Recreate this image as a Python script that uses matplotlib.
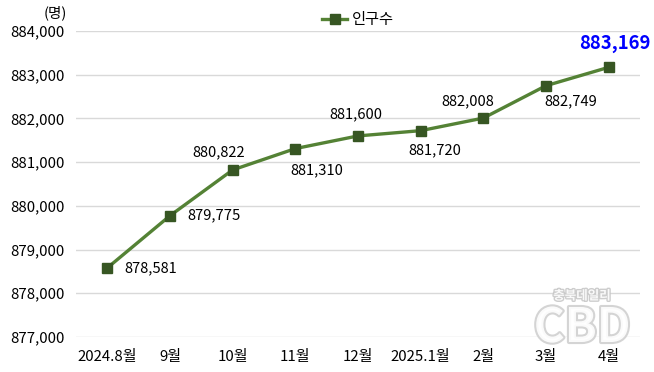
import matplotlib
matplotlib.use("Agg")
import matplotlib.pyplot as plt
import matplotlib.patheffects as pe

plt.rcParams['font.family'] = ['Noto Sans CJK KR', 'DejaVu Sans']

months = ["2024.8월", "9월", "10월", "11월", "12월", "2025.1월", "2월", "3월", "4월"]
population = [878581, 879775, 880822, 881310, 881600, 881720, 882008, 882749, 883169]
yticks = [877000, 878000, 879000, 880000, 881000, 882000, 883000, 884000]

# label offsets in pixels (dx, dy) relative to each point
offsets = [(17, 0), (17, 0), (-14, 18), (21, -22), (-2, 22), (14, -20), (-16, 17), (25, -16), (6, 24)]

fig = plt.figure(figsize=(6.54, 3.72), dpi=100)
ax = fig.add_axes([76 / 654, 1 - 337 / 372, 564 / 654, 306 / 372])

x = list(range(len(months)))
ax.plot(x, population, color="#548235", lw=2.4, marker="s", ms=7.5,
        mfc="#375623", mec="#375623", label="인구수", zorder=3)

ax.set_xlim(-0.5, len(months) - 0.5)
ax.set_ylim(877000, 884000)
ax.set_yticks(yticks)
ax.set_yticklabels([f"{v:,}" for v in yticks], fontsize=10.8)
ax.set_xticks(x)
ax.set_xticklabels(months, fontsize=10.8)
ax.tick_params(length=0, pad=8)
ax.tick_params(axis="x", pad=9)
ax.grid(axis="y", color="#d9d9d9", lw=1)
ax.set_axisbelow(True)
for s in ax.spines.values():
    s.set_visible(False)

for i, (v, (dx, dy)) in enumerate(zip(population, offsets)):
    if i == len(population) - 1:
        ax.annotate(f"{v:,}", (i, v), xytext=(dx, dy), textcoords="offset pixels",
                    ha="center", va="center", fontsize=13.3, fontweight="bold", color="#0000ff")
    else:
        ha = "left" if i < 2 else "center"
        ax.annotate(f"{v:,}", (i, v), xytext=(dx, dy), textcoords="offset pixels",
                    ha=ha, va="center", fontsize=10.6, color="black")

ax.legend(loc="center", bbox_to_anchor=(0.5, 1.036), frameon=False,
          fontsize=11, handlelength=1.6, handletextpad=0.3, borderaxespad=0)

fig.text(55 / 654, 1 - 13 / 372, "(명)", ha="center", va="center", fontsize=10.5)

# watermark
wm = [pe.withStroke(linewidth=2, foreground="#c8c8c8")]
fig.text(582 / 654, 1 - 296 / 372, "충북데일리", ha="center", va="center", fontsize=9,
         color="white", fontweight="bold", path_effects=wm, alpha=0.9)
fig.text(582 / 654, 1 - 328 / 372, "CBD", ha="center", va="center", fontsize=34,
         color="white", fontweight="bold", path_effects=[pe.withStroke(linewidth=3, foreground="#d0d0d0")],
         alpha=0.9)

fig.savefig("out.png", dpi=100)
